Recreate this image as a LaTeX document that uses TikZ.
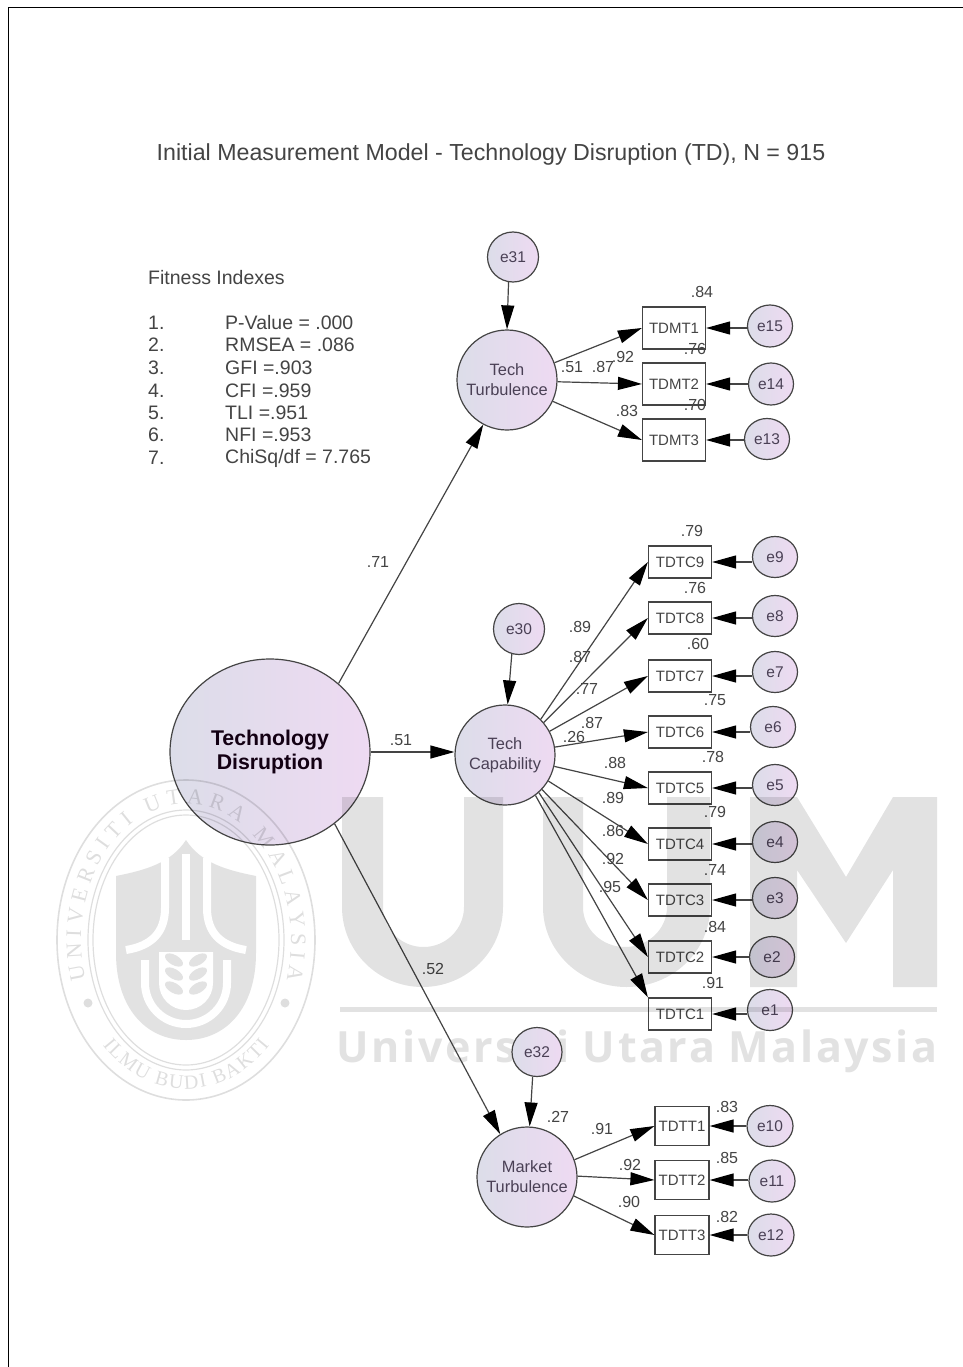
\documentclass[tikz,border=0pt]{standalone}
\usepackage{fontspec}
\setmainfont{Liberation Sans}
\newfontfamily\sealfont{Liberation Serif}
\newfontfamily\markfont[LetterSpace=6]{Open Sans}
\usetikzlibrary{arrows.meta,shapes.geometric,decorations.text}
\definecolor{latentL}{HTML}{DCDDE9}
\definecolor{latentR}{HTML}{EEDAF2}
\definecolor{inkgray}{HTML}{444444}
\definecolor{inkviolet}{HTML}{4A4055}
\definecolor{shieldgray}{HTML}{E2E2E2}
\tikzset{
  latent/.style={ellipse,draw=inkgray,line width=1.2pt,left color=latentL,right color=latentR,inner sep=0pt,align=center,text=inkviolet},
  factor/.style={latent,inner xsep=-20pt,inner ysep=-20pt,minimum width=100pt,minimum height=100pt,font=\fontsize{16.4}{20}\selectfont},
  errvar/.style={latent,inner xsep=-5pt,inner ysep=-5pt,font=\fontsize{15.5}{18}\selectfont},
  indic/.style={rectangle,draw=inkgray,line width=1.2pt,fill=white,inner sep=0pt,text=inkgray,font=\fontsize{15}{18}\selectfont},
  coef/.style={text=inkgray,inner sep=0pt,font=\fontsize{16}{18}\selectfont},
  listtxt/.style={anchor=west,inner sep=0pt,text=inkgray,font=\fontsize{19.5}{22}\selectfont},
  path01/.style={-{Triangle[length=24pt,width=13pt,fill=black,color=black]},line width=1.2pt,draw=inkgray},
}
\begin{document}
\begin{tikzpicture}[x=1pt,y=-1pt]
\useasboundingbox (0,0) rectangle (963,1367);
\fill[white] (0,0) rectangle (963,1367);
\draw[line width=1pt,black] (8,1367) -- (8,8) -- (963,8);
% watermark, the part that lies below the model
\node[inner sep=0pt,text=shieldgray,font=\markfont\bfseries\fontsize{43}{48}\selectfont] (markname) at (637,1051) {Universiti Utara Malaysia};
\begin{scope}[shift={(186,938)},x=1pt,y=1pt]
\fill[shieldgray] (0,98) .. controls (-15,75) and (-40,68) .. (-70,62) -- (-70,-15) .. controls (-70,-70) and (-40,-102) .. (0,-102) .. controls (40,-102) and (70,-70) .. (70,-15) -- (70,62) .. controls (40,68) and (15,75) .. (0,98) -- cycle;
\draw[white,line width=8pt] (0,84) -- (0,-2);
\draw[white,line width=8pt] (-21,80) -- (-21,30) .. controls (-21,5) and (-35,-8) .. (-60,-12);
\draw[white,line width=8pt] (21,80) -- (21,30) .. controls (21,5) and (35,-8) .. (60,-12);
\draw[white,line width=8pt] (-41,-22) -- (-41,-45) arc[start angle=180,end angle=360,radius=41] -- (41,-22);
\fill[white] (-27,-14) -- (-27,-45) arc[start angle=180,end angle=360,radius=27] -- (27,-14) -- cycle;
\foreach \yy in {-22,-36,-50} {
  \fill[shieldgray,rotate around={-30:(-12,\yy)}] (-12,\yy) ellipse[x radius=10,y radius=5];
  \fill[shieldgray,rotate around={30:(12,\yy)}] (12,\yy) ellipse[x radius=10,y radius=5];
}
\end{scope}
% title and fit list
\node[inner sep=0pt,text=inkgray,font=\fontsize{23.2}{28}\selectfont] (title) at (491,155) {Initial Measurement Model - Technology Disruption (TD), N = 915};
\node[listtxt] (fithead) at (148,278) {Fitness Indexes};
\foreach \yy/\nr/\txt [count=\i] in {323/1./P-Value = .000,345/2./RMSEA = .086,368/3./GFI =.903,391/4./CFI =.959,413/5./TLI =.951,435/6./NFI =.953,458/7./{ChiSq/df = 7.765}} {
  \node[listtxt] (nr\i) at (148,\yy) {\nr};
  \node[listtxt] (fit\i) at (225,\yy) {\txt};
}
% latent variables
\node[latent,inner xsep=-20pt,inner ysep=-20pt,minimum width=200pt,minimum height=186pt,font=\bfseries\fontsize{21.3}{24.5}\selectfont,text=black!85!violet] (disrupt) at (270,752) {\raisebox{-2pt}{Technology}\\\raisebox{-2pt}{Disruption}};
\node[factor] (turb) at (507,380) {Tech\\Turbulence};
\node[factor] (capab) at (505,755) {Tech\\Capability};
\node[factor] (market) at (527,1177) {Market\\Turbulence};
% observed variables
\foreach \nm/\xx/\yy in {TDMT1/674/328,TDMT2/674/384,TDMT3/674/440}
  \node[indic,minimum width=63pt,minimum height=42pt] (\nm) at (\xx,\yy) {\nm};
\foreach \nm/\yy in {TDTC9/562,TDTC8/618,TDTC7/676,TDTC6/732,TDTC5/788,TDTC4/844,TDTC3/900,TDTC2/957,TDTC1/1014}
  \node[indic,minimum width=63pt,minimum height=32pt] (\nm) at (680,\yy) {\nm};
\foreach \nm/\yy in {TDTT1/1126,TDTT2/1180,TDTT3/1235}
  \node[indic,minimum width=54pt,minimum height=39pt] (\nm) at (682,\yy) {\nm};
% error terms
\foreach \nm/\xx/\yy/\ww/\hh in {e31/513/257/51/50,e30/519/629/51/51,e32/537/1052/50/49,e15/770/326/45/42,e14/771/384/45/42,e13/767/439/45/41,e9/775/557/45/41,e8/775/616/45/41,e7/775/672/45/41,e6/773/727/45/41,e5/775/785/45/41,e4/775/842/45/41,e3/775/898/45/41,e2/772/957/45/41,e1/770/1010/45/41,e10/770/1126/46/41,e11/772/1181/46/42,e12/771/1235/46/42}
  \node[errvar,minimum width=\ww pt,minimum height=\hh pt] (\nm) at (\xx,\yy) {\nm};
% paths
\draw[path01] (disrupt.45) -- (turb.-118);
\draw[path01] (disrupt.east) -- (capab.west |- disrupt.east);
\draw[path01] (disrupt.-48) -- (market.122);
\draw[path01] (e31.-100) -- (turb.north);
\draw[path01] (e30.-106) -- (capab.87);
\draw[path01] (e32.-100) -- (market.87);
\draw[path01] (turb.20) -- (TDMT1.west);
\draw[path01] (turb.-2) -- (TDMT2.west);
\draw[path01] (turb.-25) -- (TDMT3.west);
\draw[path01] (capab.45) -- (TDTC9.west);
\draw[path01] (capab.40) -- (TDTC8.west);
\draw[path01] (capab.28) -- (TDTC7.west);
\draw[path01] (capab.9) -- (TDTC6.west);
\draw[path01] (capab.-13) -- (TDTC5.west);
\draw[path01] (capab.-31) -- (TDTC4.west);
\draw[path01] (capab.-43) -- (TDTC3.west);
\draw[path01] (capab.-48) -- (TDTC2.west);
\draw[path01] (capab.-53) -- (TDTC1.north west);
\draw[path01] (market.20) -- (TDTT1.west);
\draw[path01] (market.1) -- (TDTT2.west);
\draw[path01] (market.-22) -- (TDTT3.west);
\foreach \ee/\bb in {e15/TDMT1,e14/TDMT2,e13/TDMT3,e9/TDTC9,e8/TDTC8,e7/TDTC7,e6/TDTC6,e5/TDTC5,e4/TDTC4,e3/TDTC3,e2/TDTC2,e1/TDTC1,e10/TDTT1,e11/TDTT2,e12/TDTT3}
  \draw[path01] (\ee.west |- \bb.east) -- (\bb.east);
% estimates
\foreach \xx/\yy/\txt [count=\i] in {378/562/.71,401/740/.51,433/969/.52,
  702/292/.84,623/357/.92,572/367/.51,603/367/.87,695/349/.76,695/405/.70,627/411/.83,
  692/531/.79,695/588/.76,698/644/.60,715/700/.75,713/757/.78,715/812/.79,715/870/.74,715/927/.84,713/983/.91,
  580/627/.89,580/657/.87,587/689/.77,592/723/.87,574/737/.26,615/763/.88,613/798/.89,613/831/.86,613/859/.92,610/887/.95,
  558/1117/.27,602/1129/.91,630/1165/.92,629/1202/.90,727/1107/.83,727/1158/.85,727/1217/.82}
  \node[coef] (est\i) at (\xx,\yy) {\txt};
% watermark, the part that lies over the model
\begin{scope}[fill opacity=.115,fill=black]
\fill (342,797) -- (383,797) -- (383,907) arc[start angle=180,end angle=0,x radius=40.5,y radius=40] -- (464,797) -- (503,797) -- (503,907) arc[start angle=0,end angle=180,x radius=80.5,y radius=80] -- cycle;
\fill (543,797) -- (583,797) -- (583,907) arc[start angle=180,end angle=0,x radius=42,y radius=40] -- (667,797) -- (710,797) -- (710,907) arc[start angle=0,end angle=180,x radius=83.5,y radius=80] -- cycle;
\fill (750,797) -- (797,797) -- (846,877) -- (893,797) -- (937,797) -- (937,987) -- (893,987) -- (893,870) -- (846,943) -- (797,870) -- (797,987) -- (750,987) -- cycle;
\fill (340,1007) rectangle (937,1012);
\end{scope}
\begin{scope}[shift={(186,940)},x=1pt,y=1pt,draw opacity=.13,fill opacity=.13,text opacity=.2]
\draw[line width=1.6pt] (0,0) ellipse[x radius=129,y radius=160];
\draw[line width=1.2pt] (0,0) ellipse[x radius=98,y radius=130];
\draw[line width=1.2pt] (0,0) ellipse[x radius=93,y radius=125];
\fill (-98,-63) circle[radius=4.5];
\fill (99,-63) circle[radius=4.5];
\path[postaction={decorate,decoration={text along path,text align=fit to path,text={|\sealfont\fontsize{22}{22}\selectfont|UNIVERSITI UTARA MALAYSIA}}}] (-100.4,-39.8) arc[start angle=197,end angle=-17,x radius=105,y radius=136];
\path[postaction={decorate,decoration={text along path,text align=fit to path,text={|\sealfont\fontsize{20}{20}\selectfont|ILMU BUDI BAKTI}}}] (-83.4,-105.4) arc[start angle=225,end angle=315,x radius=118,y radius=149];
\end{scope}
\end{tikzpicture}
\end{document}
